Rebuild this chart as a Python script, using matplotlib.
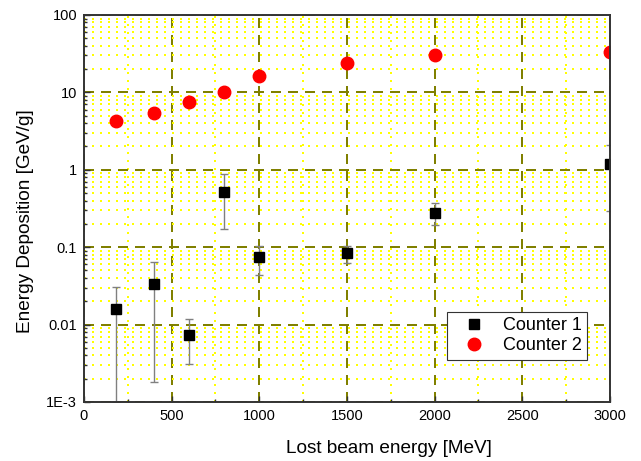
import matplotlib
matplotlib.use("Agg")
import matplotlib.pyplot as plt
from matplotlib.ticker import FixedLocator, FixedFormatter, NullFormatter
import numpy as np

plt.rcParams.update({
    "font.family": ["Liberation Sans", "DejaVu Sans"],
    "font.size": 10.5,
})

# data
beam = [180, 400, 600, 800, 1000, 1500, 2000, 3000]
c1_val = [0.0159, 0.0337, 0.0073, 0.52, 0.0738, 0.083, 0.274, 1.19]
c1_lo = [0.0010, 0.00182, 0.0031, 0.173, 0.044, 0.063, 0.191, 0.29]
c1_hi = [0.0308, 0.0648, 0.01167, 0.88, 0.104, 0.103, 0.375, 2.08]
c2_val = [4.3, 5.45, 7.56, 10.2, 16.1, 23.7, 30.3, 33.5]

x_major = [0, 500, 1000, 1500, 2000, 2500, 3000]
x_minor = [250, 750, 1250, 1750, 2250, 2750]
y_major = [1e-3, 1e-2, 1e-1, 1, 10, 100]
y_labels = ["1E-3", "0.01", "0.1", "1", "10", "100"]

OLIVE = "#808000"
YELLOW = "#ffff00"
SPINE = "#333333"

fig = plt.figure(figsize=(6.41, 4.61), dpi=100)
ax = fig.add_axes([0.131, 0.128, 0.8206, 0.8395])

ax.set_xlim(0, 3000)
ax.set_yscale("log")
ax.set_ylim(1e-3, 100)

ax.xaxis.set_major_locator(FixedLocator(x_major))
ax.xaxis.set_minor_locator(FixedLocator(x_minor))
ax.yaxis.set_major_locator(FixedLocator(y_major))
ax.yaxis.set_major_formatter(FixedFormatter(y_labels))
ax.yaxis.set_minor_locator(
    FixedLocator([m * d for d in y_major[:-1] for m in range(2, 10)]))
ax.yaxis.set_minor_formatter(NullFormatter())

# yellow dotted minor grid, olive dashed major grid
ax.grid(which="minor", color=YELLOW, linestyle=(0, (1, 3)), linewidth=1.44)
ax.grid(which="major", color=OLIVE, linestyle=(0, (5, 3.5)), linewidth=1.44)
ax.set_axisbelow(True)

ax.tick_params(which="both", direction="in", colors=SPINE, labelcolor="black")
ax.tick_params(which="major", length=4, width=1, pad=5)
ax.tick_params(which="minor", length=2.5, width=1)
for s in ax.spines.values():
    s.set_color(SPINE)
    s.set_linewidth(1.4)
    s.set_zorder(5)

val = np.array(c1_val)
yerr = [val - np.array(c1_lo), np.array(c1_hi) - val]
ax.errorbar(beam, c1_val, yerr=yerr, fmt="none", ecolor="#808080",
            elinewidth=1.0, capsize=3, capthick=1.0, zorder=3)
ax.plot(beam, c1_val, "s", color="black", markersize=7.7,
        label="Counter 1", zorder=4)
ax.plot(beam, c2_val, "o", color="#ff0000", markersize=9,
        label="Counter 2", zorder=4)

leg = ax.legend(loc="upper right", bbox_to_anchor=(0.956, 0.2326),
                fontsize=13, frameon=True, fancybox=False, borderpad=0.3,
                labelspacing=0.15, handletextpad=0.4, handlelength=2.4,
                borderaxespad=0)
leg.get_frame().set_edgecolor(SPINE)
leg.get_frame().set_linewidth(0.8)
leg.get_frame().set_alpha(1)

fig.text(389 / 641, 1 - 453 / 461, "Lost beam energy [MeV]",
         ha="center", va="baseline", fontsize=13.7)
fig.text(26 / 641, 1 - 221 / 461, "Energy Deposition [GeV/g]",
         ha="center", va="center", rotation=90, fontsize=13.7)

fig.savefig("out.png", dpi=100, facecolor="white")
